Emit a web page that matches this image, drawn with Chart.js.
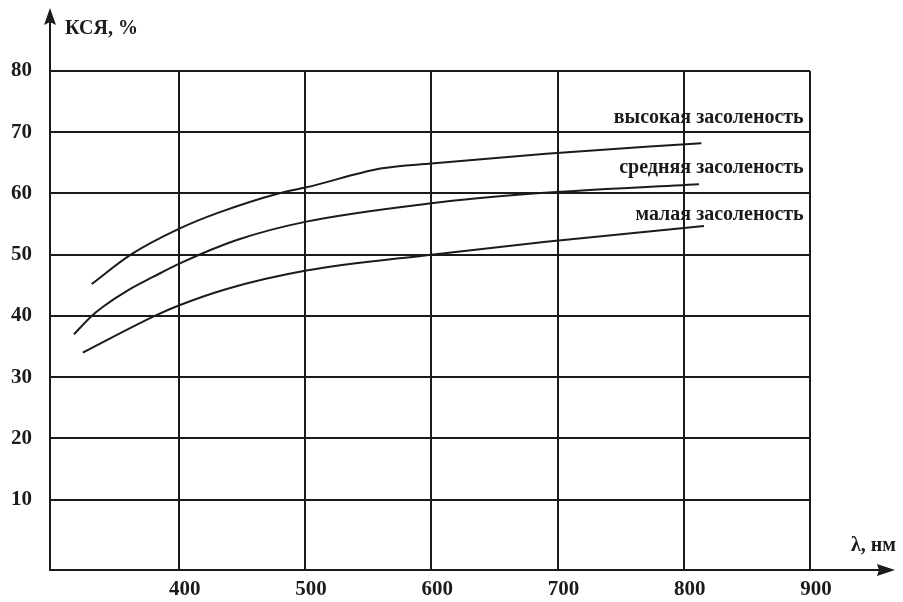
<!DOCTYPE html>
<html>
<head>
<meta charset="utf-8">
<script src="https://cdn.jsdelivr.net/npm/chart.js@4/dist/chart.umd.min.js"></script>
<style>
  html, body { margin: 0; padding: 0; background: #fff; }
  #wrap { width: 903px; height: 602px; }
</style>
</head>
<body>
<div id="wrap"><canvas id="chart" width="903" height="602"></canvas></div>
<script>
// === Data ===
const xTicks = [400, 500, 600, 700, 800, 900];
const yTicks = [10, 20, 30, 40, 50, 60, 70, 80];

const highX = [331, 362, 400, 432, 479, 501, 561, 600, 691, 814];
const highY = [45.2, 50.0, 54.2, 56.9, 60.0, 61.0, 64.1, 64.9, 66.5, 68.2];

const midX = [317, 331, 340, 360, 380, 400, 446, 501, 600, 676, 812];
const midY = [37.0, 40.0, 41.5, 44.2, 46.4, 48.5, 52.4, 55.4, 58.4, 59.9, 61.5];

const lowX = [324, 381, 400, 438, 501, 600, 691, 816];
const lowY = [34.0, 40.0, 41.7, 44.4, 47.4, 50.0, 52.1, 54.7];

const seriesNames = ['высокая засоленость', 'средняя засоленость', 'малая засоленость'];
const yTitle = 'КСЯ, %';
const xTitle = 'λ, нм';

const INK = '#1b1b1b';
const SERIF = '"Liberation Serif", "DejaVu Serif", serif';

const toPoints = (xs, ys) => xs.map((x, i) => ({ x, y: ys[i] }));

// curve labels, anchored in data units (right edge, vertical middle)
const labelAnchors = [
  { x: 895, y: 72.4 },
  { x: 895, y: 64.2 },
  { x: 895, y: 56.5 }
];

// ---------- axis arrows, titles and curve labels ----------
const decorations = {
  id: 'decorations',
  afterDraw(chart) {
    const { ctx, chartArea, scales } = chart;
    ctx.save();
    ctx.strokeStyle = INK;
    ctx.fillStyle = INK;
    ctx.lineWidth = 2;

    // x axis extension + arrow
    const yb = chartArea.bottom;
    ctx.beginPath();
    ctx.moveTo(chartArea.right, yb);
    ctx.lineTo(884, yb);
    ctx.stroke();
    ctx.beginPath();
    ctx.moveTo(895, yb);
    ctx.lineTo(877, yb - 6);
    ctx.lineTo(879, yb);
    ctx.lineTo(877, yb + 6);
    ctx.closePath();
    ctx.fill();

    // y axis extension + arrow
    const xl = chartArea.left;
    ctx.beginPath();
    ctx.moveTo(xl, chartArea.top);
    ctx.lineTo(xl, 20);
    ctx.stroke();
    ctx.beginPath();
    ctx.moveTo(xl, 8);
    ctx.lineTo(xl - 6, 25);
    ctx.lineTo(xl, 22);
    ctx.lineTo(xl + 6, 25);
    ctx.closePath();
    ctx.fill();

    // axis titles
    ctx.font = `bold 20px ${SERIF}`;
    ctx.textAlign = 'left';
    ctx.textBaseline = 'alphabetic';
    ctx.fillText(yTitle, 65, 34);
    ctx.fillText(xTitle, 851, 551);

    // curve labels
    ctx.font = `bold 20px ${SERIF}`;
    ctx.textAlign = 'right';
    ctx.textBaseline = 'middle';
    seriesNames.forEach((name, i) => {
      const a = labelAnchors[i];
      const px = scales.x.getPixelForValue(a.x);
      const py = scales.y.getPixelForValue(a.y);
      ctx.fillText(name, px, py);
    });
    ctx.restore();
  }
};

const lineStyle = {
  borderColor: INK,
  borderWidth: 2,
  pointRadius: 0,
  fill: false,
  cubicInterpolationMode: 'monotone'
};

new Chart(document.getElementById('chart'), {
  type: 'line',
  data: {
    datasets: [
      { label: seriesNames[0], data: toPoints(highX, highY), ...lineStyle },
      { label: seriesNames[1], data: toPoints(midX, midY), ...lineStyle },
      { label: seriesNames[2], data: toPoints(lowX, lowY), ...lineStyle }
    ]
  },
  options: {
    responsive: false,
    animation: false,
    layout: { padding: { top: 71, right: 93, left: 0, bottom: 0 } },
    plugins: { legend: { display: false }, tooltip: { enabled: false } },
    scales: {
      x: {
        type: 'linear',
        min: 298,
        max: 900,
        afterBuildTicks: axis => { axis.ticks = xTicks.map(v => ({ value: v })); },
        afterFit: axis => { axis.height = 32; },
        grid: { color: INK, lineWidth: 2, drawTicks: false },
        border: { color: INK, width: 2 },
        ticks: {
          color: INK,
          font: { family: SERIF, size: 21, weight: 'bold' },
          padding: 7,
          labelOffset: 6,
          maxRotation: 0
        }
      },
      y: {
        type: 'linear',
        min: -1.5,
        max: 80,
        afterBuildTicks: axis => { axis.ticks = yTicks.map(v => ({ value: v })); },
        afterFit: axis => { axis.width = 50; },
        grid: { color: INK, lineWidth: 2, drawTicks: false },
        border: { color: INK, width: 2 },
        ticks: {
          color: INK,
          font: { family: SERIF, size: 21, weight: 'bold' },
          padding: 18
        }
      }
    }
  },
  plugins: [decorations]
});
</script>
</body>
</html>
